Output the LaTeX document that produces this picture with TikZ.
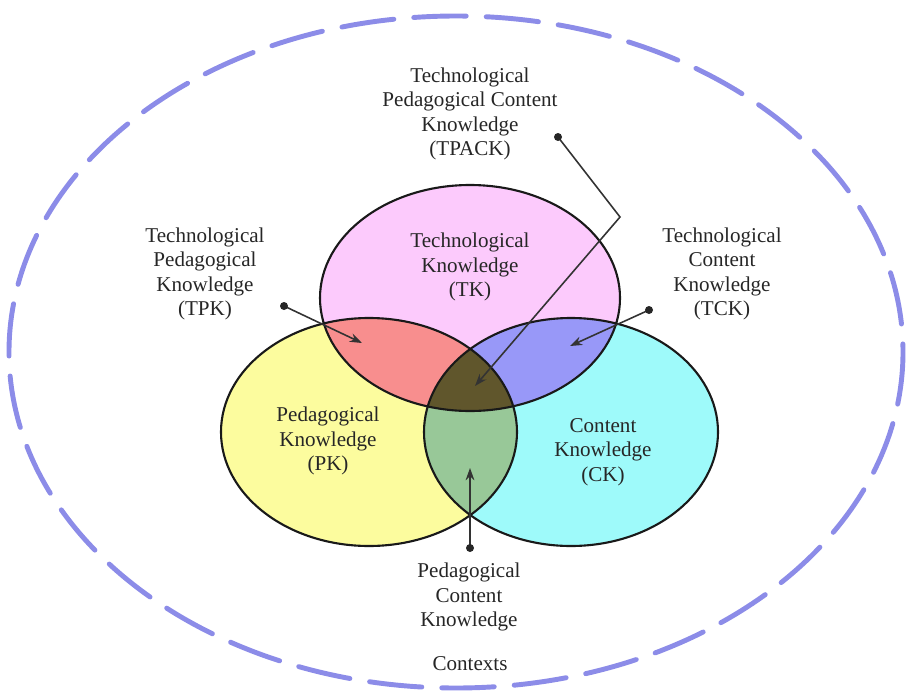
\documentclass[tikz,border=0pt]{standalone}
\usepackage{fontspec}
\setmainfont{Liberation Serif}
\usetikzlibrary{arrows.meta}
\definecolor{ctxblue}{RGB}{140,140,232}
\definecolor{tkpink}{RGB}{252,202,252}
\definecolor{pkyellow}{RGB}{252,252,158}
\definecolor{ckcyan}{RGB}{158,250,250}
\definecolor{tpkred}{RGB}{248,142,142}
\definecolor{tckblue}{RGB}{152,152,248}
\definecolor{pckgreen}{RGB}{152,200,152}
\definecolor{tpackolive}{RGB}{96,86,44}
\begin{document}
\begin{tikzpicture}[x=0.02cm,y=-0.02cm,
    lbl/.style={align=center,text=black!85,inner sep=0pt,font=\fontsize{12}{14}\selectfont},
    ring/.style={draw=black!90,line width=1.2pt},
    pointer/.style={draw=black!80,line width=0.9pt,-{Stealth[length=7pt,width=5pt]}},
    tkr/.style={x radius=150,y radius=113},
    pkr/.style={x radius=148,y radius=114},
    ckr/.style={x radius=147,y radius=114}
  ]
  \useasboundingbox (0,0) rectangle (909,693);
  % contexts
  \draw[ctxblue,line width=2.8pt,line cap=round,dash pattern=on 1.05cm off 0.4cm] (456,352) ellipse [x radius=447,y radius=336];
  % the three knowledge sets
  \coordinate (tkc) at (470,298);
  \coordinate (pkc) at (369,432);
  \coordinate (ckc) at (571,432);
  \fill[pkyellow] (pkc) ellipse [pkr];
  \fill[ckcyan] (ckc) ellipse [ckr];
  \fill[tkpink] (tkc) ellipse [tkr];
  \begin{scope}
    \clip (tkc) ellipse [tkr];
    \fill[tpkred] (pkc) ellipse [pkr];
    \fill[tckblue] (ckc) ellipse [ckr];
  \end{scope}
  \begin{scope}
    \clip (pkc) ellipse [pkr];
    \fill[pckgreen] (ckc) ellipse [ckr];
    \clip (ckc) ellipse [ckr];
    \fill[tpackolive] (tkc) ellipse [tkr];
  \end{scope}
  \draw[ring] (pkc) ellipse [pkr];
  \draw[ring] (ckc) ellipse [ckr];
  \draw[ring] (tkc) ellipse [tkr];
  % labels
  \node[lbl] (tk) at (470,267) {Technological\\Knowledge\\(TK)};
  \node[lbl] (pk) at (328,441) {Pedagogical\\Knowledge\\(PK)};
  \node[lbl] (ck) at (603,452) {Content\\Knowledge\\(CK)};
  \node[lbl] (tpack) at (470,114) {Technological\\Pedagogical Content\\Knowledge\\(TPACK)};
  \node[lbl] (tpk) at (205,274) {Technological\\Pedagogical\\Knowledge\\(TPK)};
  \node[lbl] (tck) at (722,274) {Technological\\Content\\Knowledge\\(TCK)};
  \node[lbl] (pck) at (469,597) {Pedagogical\\Content\\Knowledge};
  \node[lbl] (ctx) at (470,664) {Contexts};
  % pointers
  \coordinate (tpkdot) at (284,306);
  \coordinate (tpktip) at (362,343);
  \coordinate (tckdot) at (649,310);
  \coordinate (tcktip) at (570,346);
  \coordinate (tpackdot) at (558,137);
  \coordinate (tpackbend) at (620,217);
  \coordinate (tpacktip) at (475,386);
  \coordinate (pckdot) at (470,548);
  \coordinate (pcktip) at (470,468);
  \draw[pointer] (tpkdot) -- (tpktip);
  \draw[pointer] (tckdot) -- (tcktip);
  \draw[pointer] (tpackdot) -- (tpackbend) -- (tpacktip);
  \draw[pointer] (pckdot) -- (pcktip);
  \foreach \d in {tpkdot,tckdot,tpackdot,pckdot}
    \fill[black!85] (\d) circle [radius=4];
\end{tikzpicture}
\end{document}
